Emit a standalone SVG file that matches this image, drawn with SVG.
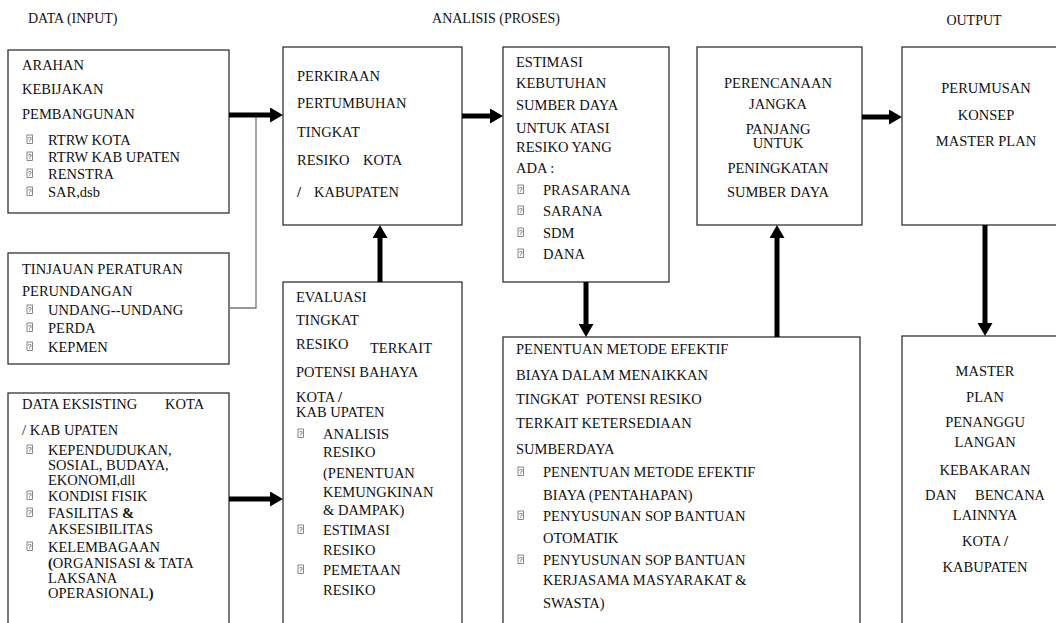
<svg xmlns="http://www.w3.org/2000/svg" width="1056" height="623" viewBox="0 0 1056 623">
<style>
.box{fill:#fff;stroke:#222;stroke-width:1.2}
text{font-family:"Liberation Serif","Times New Roman",serif;font-size:14.5px;fill:#111}
.h{font-size:14px}
.c{text-anchor:middle}
.q{font-family:"Liberation Sans",Arial,sans-serif;font-size:7px;fill:#333;text-anchor:middle}
.arr{stroke:#000;stroke-width:5;fill:none;marker-end:url(#ah)}
.thin{stroke:#777;stroke-width:1.3;fill:none}
</style>
<defs>
<marker id="ah" viewBox="0 -7.5 13 15" markerWidth="13" markerHeight="15" refX="0" refY="0" orient="auto" markerUnits="userSpaceOnUse">
<path d="M0,-7.5 L13,0 L0,7.5 z" fill="#000"/>
</marker>
<g id="bul">
<rect x="0" y="-10" width="5.5" height="8.5" fill="none" stroke="#555" stroke-width="0.7"/>
<text class="q" x="2.75" y="-3">?</text>
</g>
</defs>
<rect width="1056" height="623" fill="#fff"/>
<g id="headers">
<text class="h" x="28" y="23">DATA (INPUT)</text>
<text class="h c" x="496" y="23">ANALISIS (PROSES)</text>
<text class="h c" x="974" y="25">OUTPUT</text>
</g>
<g id="arahan">
<rect class="box" x="8" y="50" width="221" height="163"/>
<text x="22" y="70">ARAHAN</text>
<text x="22" y="94">KEBIJAKAN</text>
<text x="22" y="119">PEMBANGUNAN</text>
<use href="#bul" x="27" y="145"/><text x="48" y="145">RTRW  KOTA</text>
<use href="#bul" x="27" y="162"/><text x="48" y="162">RTRW KAB UPATEN</text>
<use href="#bul" x="27" y="179"/><text x="48" y="179">RENSTRA</text>
<use href="#bul" x="27" y="197"/><text x="48" y="197">SAR,dsb</text>
</g>
<g id="tinjauan">
<rect class="box" x="8" y="253" width="221" height="111"/>
<text x="22" y="274">TINJAUAN PERATURAN</text>
<text x="22" y="296">PERUNDANGAN</text>
<use href="#bul" x="27" y="315"/><text x="48" y="315">UNDANG--UNDANG</text>
<use href="#bul" x="27" y="333"/><text x="48" y="333">PERDA</text>
<use href="#bul" x="27" y="352"/><text x="48" y="352">KEPMEN</text>
</g>
<g id="eksisting">
<rect class="box" x="8" y="393" width="221" height="240"/>
<text x="22" y="409">DATA EKSISTING</text><text x="165" y="409">KOTA</text>
<text x="22" y="435">/ KAB UPATEN</text>
<use href="#bul" x="27" y="455"/><text x="48" y="455">KEPENDUDUKAN,</text>
<text x="48" y="470">SOSIAL, BUDAYA,</text>
<text x="48" y="485">EKONOMI,dll</text>
<use href="#bul" x="27" y="501"/><text x="48" y="501">KONDISI FISIK</text>
<use href="#bul" x="27" y="518"/><text x="48" y="518">FASILITAS <tspan font-weight="bold">&amp;</tspan></text>
<text x="48" y="534">AKSESIBILITAS</text>
<use href="#bul" x="27" y="552"/><text x="48" y="552">KELEMBAGAAN</text>
<text x="48" y="568"><tspan font-weight="bold">(</tspan>ORGANISASI &amp; TATA</text>
<text x="48" y="583">LAKSANA</text>
<text x="48" y="598">OPERASIONAL<tspan font-weight="bold">)</tspan></text>
</g>
<g id="perkiraan">
<rect class="box" x="283" y="47" width="179" height="178"/>
<text x="297" y="81">PERKIRAAN</text>
<text x="297" y="108">PERTUMBUHAN</text>
<text x="297" y="137">TINGKAT</text>
<text x="297" y="165">RESIKO</text><text x="363" y="165">KOTA</text>
<text x="297" y="197" font-weight="bold">/</text><text x="314" y="197">KABUPATEN</text>
</g>
<g id="evaluasi">
<rect class="box" x="283" y="282" width="179" height="350"/>
<text x="296" y="302">EVALUASI</text>
<text x="296" y="325">TINGKAT</text>
<text x="296" y="349">RESIKO</text><text x="370" y="353">TERKAIT</text>
<text x="296" y="377">POTENSI BAHAYA</text>
<text x="296" y="402">KOTA <tspan font-weight="bold">/</tspan></text>
<text x="296" y="417">KAB UPATEN</text>
<use href="#bul" x="298" y="439"/><text x="323" y="439">ANALISIS</text>
<text x="323" y="457">RESIKO</text>
<text x="323" y="478">(PENENTUAN</text>
<text x="323" y="497">KEMUNGKINAN</text>
<text x="323" y="515">&amp; DAMPAK)</text>
<use href="#bul" x="298" y="535"/><text x="323" y="535">ESTIMASI</text>
<text x="323" y="555">RESIKO</text>
<use href="#bul" x="298" y="575"/><text x="323" y="575">PEMETAAN</text>
<text x="323" y="595">RESIKO</text>
</g>
<g id="estimasi">
<rect class="box" x="503" y="47" width="166" height="235"/>
<text x="516" y="67">ESTIMASI</text>
<text x="516" y="88">KEBUTUHAN</text>
<text x="516" y="110">SUMBER DAYA</text>
<text x="516" y="133">UNTUK ATASI</text>
<text x="516" y="152">RESIKO YANG</text>
<text x="516" y="173">ADA :</text>
<use href="#bul" x="518" y="195"/><text x="543" y="195">PRASARANA</text>
<use href="#bul" x="518" y="216"/><text x="543" y="216">SARANA</text>
<use href="#bul" x="518" y="238"/><text x="543" y="238">SDM</text>
<use href="#bul" x="518" y="259"/><text x="543" y="259">DANA</text>
</g>
<g id="penentuan">
<rect class="box" x="503" y="337" width="357" height="296"/>
<text x="516" y="354">PENENTUAN METODE EFEKTIF</text>
<text x="516" y="380">BIAYA DALAM MENAIKKAN</text>
<text x="516" y="404">TINGKAT</text><text x="586" y="404">POTENSI RESIKO</text>
<text x="516" y="428">TERKAIT KETERSEDIAAN</text>
<text x="516" y="454">SUMBERDAYA</text>
<use href="#bul" x="518" y="477"/><text x="543" y="477">PENENTUAN METODE EFEKTIF</text>
<text x="543" y="500">BIAYA (PENTAHAPAN)</text>
<use href="#bul" x="518" y="521"/><text x="543" y="521">PENYUSUNAN SOP BANTUAN</text>
<text x="543" y="543">OTOMATIK</text>
<use href="#bul" x="518" y="565"/><text x="543" y="565">PENYUSUNAN SOP BANTUAN</text>
<text x="543" y="585">KERJASAMA MASYARAKAT &amp;</text>
<text x="543" y="608">SWASTA)</text>
</g>
<g id="perencanaan">
<rect class="box" x="697" y="47" width="165" height="178"/>
<text class="c" x="778" y="88">PERENCANAAN</text>
<text class="c" x="778" y="109">JANGKA</text>
<text class="c" x="778" y="134">PANJANG</text>
<text class="c" x="778" y="148">UNTUK</text>
<text class="c" x="778" y="173">PENINGKATAN</text>
<text class="c" x="778" y="197">SUMBER DAYA</text>
</g>
<g id="perumusan">
<rect class="box" x="902" y="47" width="170" height="178"/>
<text class="c" x="986" y="93">PERUMUSAN</text>
<text class="c" x="986" y="120">KONSEP</text>
<text class="c" x="986" y="146">MASTER PLAN</text>
</g>
<g id="masterplan">
<rect class="box" x="902" y="336" width="170" height="297"/>
<text class="c" x="985" y="376">MASTER</text>
<text class="c" x="985" y="402">PLAN</text>
<text class="c" x="985" y="427">PENANGGU</text>
<text class="c" x="985" y="447">LANGAN</text>
<text class="c" x="985" y="475">KEBAKARAN</text>
<text x="925" y="500">DAN</text><text x="975" y="500">BENCANA</text>
<text class="c" x="985" y="520">LAINNYA</text>
<text class="c" x="985" y="546">KOTA <tspan font-weight="bold">/</tspan></text>
<text class="c" x="985" y="572">KABUPATEN</text>
</g>
<g id="connectors">
<polyline class="thin" points="256,115 256,308 229,308"/>
<line class="arr" x1="229" y1="115" x2="270" y2="115"/>
<line class="arr" x1="229" y1="499" x2="270" y2="499"/>
<line class="arr" x1="380" y1="282" x2="380" y2="238"/>
<line class="arr" x1="462" y1="116" x2="490" y2="116"/>
<line class="arr" x1="586" y1="282" x2="586" y2="324"/>
<line class="arr" x1="777" y1="337" x2="777" y2="238"/>
<line class="arr" x1="862" y1="117" x2="889" y2="117"/>
<line class="arr" x1="985" y1="225" x2="985" y2="323"/>
</g>
</svg>
